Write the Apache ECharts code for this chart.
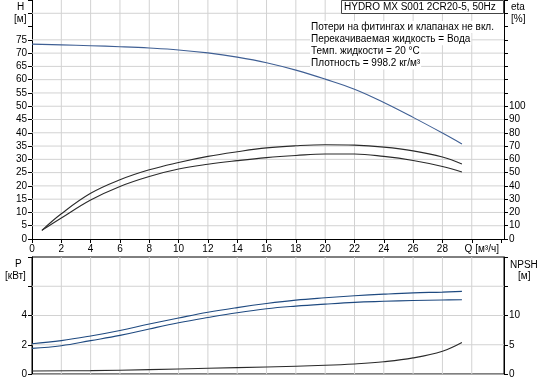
<!DOCTYPE html>
<html>
<head>
<meta charset="utf-8">
<script src="https://cdn.jsdelivr.net/npm/echarts/dist/echarts.min.js"></script>
<style>
html,body{margin:0;padding:0;background:#fff;}
#c{width:544px;height:383px;}
</style>
</head>
<body>
<div id="c"></div>
<script>
// ---- data ----
const qH   = [0, 2, 4, 6, 8, 10, 12, 14, 16, 18, 20, 22, 24, 26, 28, 29.33];
const headH = [73.4, 73.1, 72.8, 72.4, 71.9, 71.2, 70.1, 68.5, 66.4, 63.6, 60.2, 56.4, 51.4, 45.8, 39.9, 35.8];

const qEta = [0.675, 2, 4, 6, 8, 10, 12, 14, 16, 18, 20, 22, 24, 26, 28, 29.33];
const eta1 = [6.5, 19.0, 34.4, 44.6, 52.1, 57.6, 62.2, 65.7, 68.6, 70.2, 71.0, 70.7, 69.2, 66.4, 61.7, 56.4];
const eta2 = [6.5, 15.8, 29.4, 39.6, 47.1, 52.7, 56.3, 59.0, 61.3, 62.9, 64.0, 64.0, 62.2, 59.1, 54.6, 50.4];

const qP = [0, 2, 4, 6, 8, 10, 12, 14, 16, 18, 20, 22, 24, 26, 28, 29.33];
const p1 = [2.07, 2.28, 2.60, 2.98, 3.42, 3.83, 4.22, 4.54, 4.82, 5.05, 5.21, 5.35, 5.46, 5.55, 5.60, 5.65];
const p2 = [1.75, 1.93, 2.28, 2.64, 3.08, 3.50, 3.86, 4.19, 4.46, 4.64, 4.78, 4.90, 4.97, 5.03, 5.06, 5.08];

const qN = [0, 4, 8, 12, 16, 20, 22, 24, 26, 28, 29.33];
const npsh = [0.52, 0.57, 0.74, 0.98, 1.2, 1.49, 1.72, 2.1, 2.75, 3.9, 5.38];

const xTickLabels = ['0','2','4','6','8','10','12','14','16','18','20','22','24','26','28','Q [м³/ч]'];
const hLabels   = [0,5,10,15,20,25,30,35,40,45,50,55,60,65,70,75];
const etaLabels = [0,10,20,30,40,50,60,70,80,90,100];
const pLabels   = [0,2,4];
const nLabels   = [0,5,10];

// grid-line positions (axis values)
const xGridValues = [2,4,6,8,10,12,14,16,18,20,22,24,26,28,30];
const hGridValues = [5,10,15,20,25,30,35,40,45,50,55,60,65,70,75,85];
const pGridValues = [2,4,6];

const titleText = 'HYDRO MX S001 2CR20-5, 50Hz';
const infoLines = ['Потери на фитингах и клапанах не вкл.', 'Перекачиваемая жидкость = Вода', 'Темп. жидкости = 20 °C', 'Плотность = 998.2 кг/м³'];

// ---- chart ----
const FONT = 'Liberation Sans, Arial, sans-serif';
const FS = 10;
const X_MAX = 32.2, H_MAX = 90, P_MAX = 8;
const pair = (xs, ys) => xs.map((x, i) => [x, ys[i]]);
const chart = echarts.init(document.getElementById('c'), null, {renderer: 'canvas'});

const lbl = {fontFamily: FONT, fontSize: FS, color: '#000'};
const GRID_COLOR = '#d2d2d2';

function xAxisDef(gridIndex, showLabels, lineColor) {
  return {
    type: 'value', gridIndex: gridIndex, min: 0, max: X_MAX, interval: 2,
    axisLine: {show: true, onZero: false, lineStyle: {color: lineColor, width: 1}},
    axisTick: {show: showLabels, length: 4, lineStyle: {color: '#000'}},
    axisLabel: showLabels ? Object.assign({}, lbl, {
      margin: 5, showMaxLabel: false,
      formatter: v => {
        const i = Math.round(v / 2);
        if (i === 15) return '{q|' + xTickLabels[i] + '}';
        return i < xTickLabels.length ? xTickLabels[i] : '';
      },
      rich: {q: {fontFamily: FONT, fontSize: FS, color: '#000', padding: [0, 0, 0, 20]}}
    }) : {show: false},
    splitLine: {show: false}
  };
}

function yAxisDef(gridIndex, pos, max, interval, labels) {
  return {
    type: 'value', gridIndex: gridIndex, position: pos, min: 0, max: max, interval: interval,
    axisLine: {show: true, onZero: false, lineStyle: {color: '#000', width: 1}},
    axisTick: {show: true, length: 4, lineStyle: {color: '#000'}},
    axisLabel: Object.assign({}, lbl, {
      margin: 5, showMaxLabel: true,
      formatter: v => labels.indexOf(v) >= 0 ? String(v) : ''
    }),
    splitLine: {show: false}
  };
}

// grid lines drawn as plain line series through the axes' scales
function gridLineSeries(xIdx, yIdx, yMax, yVals) {
  const mk = d => ({type: 'line', xAxisIndex: xIdx, yAxisIndex: yIdx, data: d, showSymbol: false, silent: true,
    z: 1, animation: false, lineStyle: {color: GRID_COLOR, width: 1}});
  return xGridValues.map(v => mk([[v, 0], [v, yMax]]))
    .concat(yVals.map(v => mk([[0, v], [X_MAX, v]])));
}

const labelStyle = {fontFamily: FONT, fontSize: FS, color: '#1f4a80'};

const curves = [
  {type: 'line', name: 'H', xAxisIndex: 0, yAxisIndex: 0, data: pair(qH, headH), showSymbol: false, smooth: 0.4, z: 3,
   lineStyle: {color: '#3f5f94', width: 1.1}},
  {type: 'line', name: 'eta1', xAxisIndex: 0, yAxisIndex: 1, data: pair(qEta, eta1), showSymbol: false, smooth: 0.4, z: 3,
   lineStyle: {color: '#2a2a2a', width: 1.1}},
  {type: 'line', name: 'eta2', xAxisIndex: 0, yAxisIndex: 1, data: pair(qEta, eta2), showSymbol: false, smooth: 0.4, z: 3,
   lineStyle: {color: '#2a2a2a', width: 1.1}},
  {type: 'line', name: 'P1', xAxisIndex: 1, yAxisIndex: 2, showSymbol: false, smooth: 0.4, z: 3,
   data: pair(qP, p1).map((d, i, a) => i === a.length - 1 ? {value: d, label: Object.assign({show: true, position: 'top', distance: 3, offset: [5, 1], formatter: 'P1'}, labelStyle)} : d),
   lineStyle: {color: '#1f4a80', width: 1.1}},
  {type: 'line', name: 'P2', xAxisIndex: 1, yAxisIndex: 2, showSymbol: false, smooth: 0.4, z: 3,
   data: pair(qP, p2).map((d, i, a) => i === a.length - 1 ? {value: d, label: Object.assign({show: true, position: 'bottom', distance: 2, offset: [5, 0], formatter: 'P2'}, labelStyle)} : d),
   lineStyle: {color: '#1f4a80', width: 1.1}},
  {type: 'line', name: 'NPSH', xAxisIndex: 1, yAxisIndex: 3, data: pair(qN, npsh), showSymbol: false, smooth: 0.4, z: 3,
   lineStyle: {color: '#2a2a2a', width: 1.1}}
];

const option = {
  animation: false,
  backgroundColor: '#fff',
  grid: [
    {left: 32, top: 0, width: 472, height: 239, show: false},
    {left: 32, top: 257, width: 472, height: 117, show: true, borderColor: '#000', borderWidth: 1}
  ],
  xAxis: [xAxisDef(0, true, '#000'), xAxisDef(1, false, '#aaa')],
  yAxis: [
    yAxisDef(0, 'left', H_MAX, 5, hLabels),
    yAxisDef(0, 'right', 180, 10, etaLabels),
    yAxisDef(1, 'left', P_MAX, 2, pLabels),
    yAxisDef(1, 'right', 20, 5, nLabels)
  ],
  series: gridLineSeries(0, 0, H_MAX, hGridValues)
    .concat(gridLineSeries(1, 2, P_MAX, pGridValues))
    .concat(curves),
  graphic: [
    {type: 'text', left: 17, top: 2, z: 100, style: {text: 'H', font: FS + 'px ' + FONT, fill: '#000'}},
    {type: 'text', left: 14, top: 14, z: 100, style: {text: '[м]', font: FS + 'px ' + FONT, fill: '#000'}},
    {type: 'text', left: 511, top: 2, z: 100, style: {text: 'eta', font: FS + 'px ' + FONT, fill: '#000'}},
    {type: 'text', left: 511, top: 14, z: 100, style: {text: '[%]', font: FS + 'px ' + FONT, fill: '#000'}},
    {type: 'text', left: 15, top: 259, z: 100, style: {text: 'P', font: FS + 'px ' + FONT, fill: '#000'}},
    {type: 'text', left: 5, top: 271, z: 100, style: {text: '[кВт]', font: FS + 'px ' + FONT, fill: '#000'}},
    {type: 'text', left: 510, top: 260, z: 100, style: {text: 'NPSH', font: FS + 'px ' + FONT, fill: '#000'}},
    {type: 'text', left: 518, top: 271, z: 100, style: {text: '[м]', font: FS + 'px ' + FONT, fill: '#000'}},
    {type: 'rect', left: 341, top: 0, z: 99, shape: {width: 162, height: 13}, style: {fill: '#fff', stroke: '#444', lineWidth: 1}},
    {type: 'text', left: 344, top: 2, z: 100, style: {text: titleText, font: FS + 'px ' + FONT, fill: '#000'}}
  ].concat(infoLines.map((t, i) => ({
    type: 'text', left: 310, top: 21 + i * 12.2, z: 100,
    style: {text: t, font: FS + 'px ' + FONT, fill: '#000', backgroundColor: '#fff', padding: [1, 1, 1, 1]}
  })))
};
chart.setOption(option);
</script>
</body>
</html>
